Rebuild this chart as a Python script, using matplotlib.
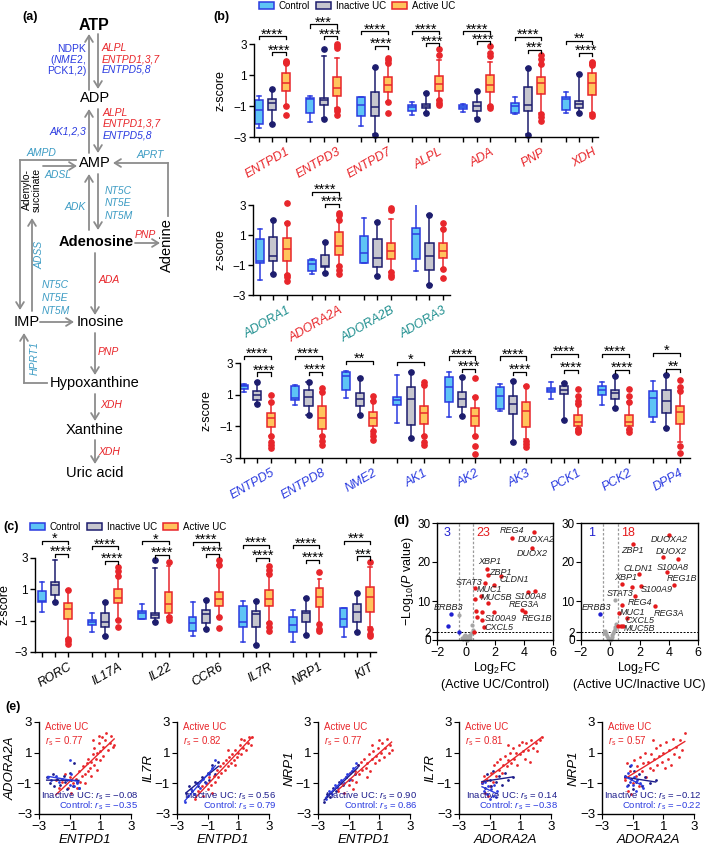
import numpy as np
import matplotlib
matplotlib.use("Agg")
import matplotlib.pyplot as plt
from matplotlib.patches import Patch
from matplotlib.transforms import offset_copy

plt.rcParams['font.family'] = ['Liberation Sans', 'DejaVu Sans']
plt.rcParams['mathtext.fontset'] = 'custom'
plt.rcParams['mathtext.rm'] = 'Liberation Sans'
plt.rcParams['mathtext.it'] = 'Liberation Sans:italic'
plt.rcParams['mathtext.bf'] = 'Liberation Sans:bold'
plt.rcParams['axes.linewidth'] = 1.0

RED = '#e8262b'
BLUE = '#2b3be0'
NAVY = '#1d1d6e'
TEAL_A = '#3d9cc4'
TEAL_G = '#1f8f8f'
ARROW = '#8c8c8c'
GROUPS = ['Control', 'Inactive UC', 'Active UC']
FACE = ['#5ec4f5', '#c6c6ce', '#ffc45c']
EDGE = [BLUE, NAVY, RED]

# ---------------- data: panel (b) ----------------
# each box: (whisker low, q1, median, q3, whisker high)
b1_genes = ['ENTPD1', 'ENTPD3', 'ENTPD7', 'ALPL', 'ADA', 'PNP', 'XDH']
b1_control = [(-2.45, -2.13, -1.26, -0.61, -0.35), (-2.02, -1.44, -0.57, -0.46, -0.35),
              (-2.30, -1.65, -0.94, -0.44, -0.40), (-1.55, -1.31, -1.09, -0.94, -0.72),
              (-1.37, -1.20, -1.05, -0.94, -0.90), (-1.52, -1.44, -1.00, -0.79, -0.40),
              (-1.48, -1.26, -0.57, -0.44, -0.07)]
b1_inactive = [(-2.13, -1.26, -0.79, -0.53, 0.03), (-1.80, -0.94, -0.61, -0.50, 2.20),
               (-2.78, -1.65, -1.05, -0.07, 1.48), (-1.48, -1.16, -1.00, -0.87, -0.14),
               (-1.80, -1.31, -1.00, -0.72, -0.03), (-2.78, -1.31, -0.94, 0.21, 1.48),
               (-1.48, -1.16, -0.87, -0.66, 1.07)]
b1_inactive_fl = [[-2.17, 0.10], [-1.85, 2.68], [-2.90, 1.50], [-1.48, -0.14],
                  [-1.85, -0.03], [-2.90, 1.48], [-1.48, 1.07]]
b1_active = [(-1.00, -0.01, 0.51, 1.12, 1.75), (-1.16, -0.35, 0.14, 0.86, 2.09),
             (-0.72, -0.07, 0.36, 0.90, 1.77), (-0.61, -0.01, 0.40, 0.94, 1.98),
             (-1.00, -0.07, 0.36, 1.00, 1.87), (-1.48, -0.23, 0.47, 0.90, 1.66),
             (-1.48, -0.29, 0.47, 1.16, 1.66)]
b1_active_fl = [[1.75, 1.82, 1.90, -1.00, -1.59], [2.75, 2.90, 3.00, -1.20, -1.35, -1.60],
                [1.80, 1.95, 2.10, -0.72, -1.42], [2.30, 2.68, -0.60, -0.80, -0.95],
                [2.20, 2.42, 2.85, -1.00, -1.15], [1.70, 2.05, 2.30, -1.50, -1.70, -1.95],
                [1.66, 1.78, 1.87, -1.50, -1.65]]
b1_outer = ['****', '***', '****', '****', '****', '****', '**']
b1_outer_y = [3.50, 4.26, 3.82, 3.82, 3.82, 3.45, 3.22]
b1_inner = ['****', '****', '****', '****', '****', '***', '****']
b1_inner_y = [2.46, 3.50, 2.89, 3.06, 3.17, 2.63, 2.42]

b2_genes = ['ADORA1', 'ADORA2A', 'ADORA2B', 'ADORA3']
b2_colors = [TEAL_G, RED, TEAL_G, TEAL_G]
b2_control = [(-2.00, -0.89, -0.73, 0.71, 1.38), (-1.60, -1.40, -0.93, -0.67, -0.60),
              (-0.89, -0.84, -0.18, 0.93, 2.16), (-1.38, -0.62, 1.07, 1.44, 3.11)]
b2_inactive = [(-1.60, -0.71, -0.38, 0.84, 2.00), (-1.56, -1.11, -1.04, -0.33, 0.56),
               (-1.73, -1.11, -0.56, 0.71, 1.89), (-2.33, -1.33, -0.38, 0.49, 2.33)]
b2_inactive_fl = [[-1.60, 2.00], [-1.56, 0.56], [-1.73, 1.89], [-2.33, 2.33]]
b2_active = [(-1.67, -0.73, 0.04, 0.78, 1.78), (-1.07, -0.33, 0.27, 1.18, 2.00),
             (-1.44, -0.62, -0.07, 0.49, 2.09), (-1.29, -0.56, -0.04, 0.49, 1.38)]
b2_active_fl = [[1.78, 3.10, -1.67, -1.80, -2.10], [2.00, 2.30, 2.45, -1.07, -1.33, -1.60],
                [2.67, 2.78, -1.44, -1.67, -1.82], [1.38, 1.78, -1.29, -1.89]]
b2_outer = ['', '****', '', '']
b2_outer_y = [0, 3.89, 0, 0]
b2_inner = ['', '****', '', '']
b2_inner_y = [0, 3.07, 0, 0]

b3_genes = ['ENTPD5', 'ENTPD8', 'NME2', 'AK1', 'AK2', 'AK3', 'PCK1', 'PCK2', 'DPP4']
b3_control = [(1.15, 1.36, 1.53, 1.63, 1.67), (0.35, 0.68, 0.79, 1.57, 1.63),
              (0.77, 1.29, 2.20, 2.41, 2.47), (-0.79, 0.35, 0.68, 0.83, 2.26),
              (-0.43, 0.52, 1.46, 2.09, 2.45), (-0.01, 0.09, 0.94, 1.46, 1.67),
              (0.73, 1.19, 1.29, 1.40, 1.78), (0.35, 0.98, 1.32, 1.57, 1.78),
              (-0.71, -0.39, 0.77, 1.21, 1.88)]
b3_inactive = [(0.41, 0.68, 1.00, 1.25, 1.82), (-0.28, 0.31, 0.83, 1.32, 1.82),
               (-0.28, 0.26, 0.73, 1.08, 2.05), (-1.76, -0.89, 0.73, 1.46, 2.41),
               (-0.37, 0.20, 0.73, 1.15, 2.14), (-1.97, -0.22, 0.39, 0.94, 1.84),
               (-0.60, 1.04, 1.32, 1.53, 1.74), (0.14, 0.73, 1.08, 1.32, 2.20),
               (-1.13, -0.18, 0.62, 1.32, 2.26)]
b3_inactive_fl = [[0.41, 1.82], [-0.28, 1.82], [-0.28, 2.05], [-1.76, 2.41], [-0.37, 2.14],
                  [-1.97, 1.84], [-0.60, 1.74], [0.14, 2.20], [-1.13, 2.26]]
b3_active = [(-1.59, -1.06, -0.49, -0.16, 0.52), (-1.63, -1.17, -0.47, 0.31, 1.15),
             (-1.48, -0.96, -0.49, -0.12, 0.62), (-1.59, -0.85, -0.16, 0.31, 1.60),
             (-1.59, -1.00, -0.37, 0.14, 0.83), (-1.80, -1.06, -0.01, 0.56, 1.53),
             (-1.17, -1.00, -0.71, -0.28, 0.40), (-1.23, -1.00, -0.75, -0.28, 0.56),
             (-2.00, -0.85, -0.07, 0.31, 1.25)]
b3_active_fl = [[0.56, 1.00, -1.60, -2.00, -2.20, -2.40], [1.15, 1.40, -1.60, -1.90, -2.18],
                [0.62, 0.94, -1.27, -1.59, -1.84], [1.60, 1.82, -1.60, -2.00, -2.20],
                [0.83, 2.03, -1.63, -2.22, -2.75], [1.53, -1.90, -2.10, -2.33],
                [0.40, 0.60, 0.94, 1.36, -1.17, -1.27, -1.38], [0.56, 0.94, 1.36, -1.17, -1.38],
                [1.25, 1.50, 1.94, -2.22, -2.68]]
b3_outer = ['****', '****', '**', '*', '****', '****', '****', '****', '*']
b3_outer_y = [3.46, 3.46, 3.15, 3.08, 3.42, 3.42, 3.57, 3.57, 3.63]
b3_inner = ['****', '****', '', '', '****', '****', '****', '****', '**']
b3_inner_y = [2.41, 2.45, 0, 0, 2.62, 2.45, 2.58, 2.58, 2.62]

# ---------------- data: panel (c) ----------------
c_genes = ['RORC', 'IL17A', 'IL22', 'CCR6', 'IL7R', 'NRP1', 'KIT']
c_control = [(-0.47, 0.17, 0.26, 0.90, 1.46), (-1.71, -1.28, -1.11, -0.96, -0.53),
             (-0.90, -0.90, -0.53, -0.38, 0.04), (-1.97, -1.67, -1.13, -0.75, 0.22),
             (-2.35, -1.39, -1.07, -0.06, 0.26), (-2.35, -1.71, -1.28, -0.75, -0.32),
             (-2.03, -1.39, -0.90, -0.21, -0.17)]
c_inactive = [(0.17, 0.64, 1.29, 1.46, 2.90), (-1.99, -1.39, -1.07, -0.53, 0.22),
              (-1.07, -0.81, -0.64, -0.53, 2.36), (-1.56, -1.18, -0.60, -0.32, 0.32),
              (-2.57, -1.39, -0.60, -0.38, 0.26), (-1.92, -1.11, -0.53, -0.38, 0.47),
              (-1.75, -1.07, -0.47, 0.04, 0.75)]
c_inactive_fl = [[0.17], [-1.99, 0.22], [-1.07, 2.85], [-1.56, 0.32], [-2.57, 0.26],
                 [-1.92, 0.47], [-1.75, 0.75]]
c_active = [(-2.14, -0.92, -0.25, 0.11, 0.95), (-0.96, 0.11, 0.47, 1.03, 1.82),
            (-0.75, -0.53, 0.04, 0.82, 2.46), (-0.75, -0.04, 0.39, 0.82, 2.53),
            (-1.18, -0.04, 0.39, 0.97, 1.97), (-1.22, -0.10, 0.54, 1.07, 1.65),
            (-1.39, -0.47, 0.54, 1.12, 2.45)]
c_active_fl = [[0.97, -2.14, -2.30, -2.46], [1.82, 2.19, 2.40, -0.96, -1.39],
               [2.74, -0.75, -0.96], [2.53, 2.89, -0.75, -1.45],
               [1.97, 2.25, 2.46, -1.18, -1.39, -1.67], [2.10, -1.24, -1.50, -1.67],
               [2.74, -1.50, -1.82, -1.97]]
c_outer = ['*', '****', '*', '****', '****', '****', '***']
c_outer_y = [4.11, 3.75, 4.07, 4.03, 3.86, 3.81, 4.11]
c_inner = ['****', '****', '****', '****', '****', '****', '***']
c_inner_y = [3.26, 2.83, 3.21, 3.26, 3.00, 2.89, 3.10]

# ---------------- data: panel (d) ----------------
d1_red_x = [3.16, 4.66, 4.54, 1.42, 1.54, 2.39, 1.30, 1.95, 0.61, 1.03, 0.61, 1.54,
            4.31, 4.77, 0.68, 1.08, 1.95, 3.85, 4.08, 0.73, 1.08, 1.26, 0.54]
d1_red_y = [26.2, 27.7, 23.6, 18.3, 16.6, 16.3, 14.6, 14.0, 13.3, 11.4, 10.6, 9.4,
            12.4, 12.6, 7.5, 7.3, 7.1, 7.6, 7.3, 6.0, 5.2, 3.4, 2.0]
d1_blue_x = [-1.05, -1.25, -0.50]
d1_blue_y = [6.6, 3.7, 2.0]
d1_gray_x = [-0.45, 0.42, 0.45, -0.30, -0.20, -0.10, 0.00, 0.10, 0.20, 0.25, 0.30,
             -0.05, 0.35, 0.15, -0.15, 0.05]
d1_gray_y = [6.3, 3.9, 2.5, 0.5, 0.2, 0.8, 0.3, 0.1, 0.6, 1.2, 0.4, 1.4, 1.8, 0.9, 1.1, 0.0]
d1_labels = ['REG4', 'DUOXA2', 'DUOX2', 'XBP1', 'ZBP1', 'CLDN1', 'STAT3', 'MUC1', 'MUC5B',
             'S100A8', 'REG3A', 'ERBB3', 'S100A9', 'REG1B', 'CXCL5']
d1_label_x = [3.20, 4.82, 4.54, 1.61, 2.35, 3.36, 0.22, 1.61, 2.09, 4.47, 3.97, -1.24,
              2.39, 4.87, 2.28]
d1_label_y = [28.1, 25.75, 22.1, 20.0, 17.4, 15.45, 14.85, 12.9, 10.9, 11.2, 9.0, 8.3,
              5.6, 5.6, 3.3]
d1_counts = ['3', '23']

d2_red_x = [4.04, 1.55, 3.62, 4.66, 3.85, 1.96, 4.38, 0.81, 1.46, 2.12, 1.69, 0.81,
            3.05, 0.58, 1.16, 0.55, 0.72, 0.90]
d2_red_y = [27.0, 24.5, 21.2, 20.8, 17.4, 17.0, 14.2, 14.4, 13.7, 13.9, 11.4, 9.0,
            8.7, 6.9, 5.6, 3.7, 3.5, 3.6]
d2_blue_x = [-0.69]
d2_blue_y = [6.6]
d2_gray_x = [0.35, -0.40, -0.35, -0.30, -0.25, -0.15, -0.05, 0.00, 0.05, 0.10, 0.15,
             0.20, 0.25, 0.30, 0.35, 0.40]
d2_gray_y = [10.3, 1.8, 2.2, 1.6, 1.0, 0.6, 0.2, 0.0, 0.3, 0.8, 1.3, 1.8, 2.4, 2.9, 3.4, 4.0]
d2_labels = ['DUOXA2', 'ZBP1', 'DUOX2', 'S100A8', 'CLDN1', 'REG1B', 'XBP1', 'S100A9',
             'STAT3', 'REG4', 'REG3A', 'MUC1', 'CXCL5', 'MUC5B', 'ERBB3']
d2_label_x = [4.04, 1.50, 4.15, 4.27, 1.89, 4.89, 1.04, 3.16, 0.70, 2.01, 4.04, 1.55,
              2.01, 2.01, -0.92]
d2_label_y = [25.75, 23.0, 22.75, 18.7, 18.45, 15.7, 16.1, 12.9, 11.85, 9.7, 6.9, 7.0,
              4.9, 3.0, 8.3]
d2_counts = ['1', '18']

# ---------------- data: panel (e) ----------------
e_xlabels = ['ENTPD1', 'ENTPD1', 'ENTPD1', 'ADORA2A', 'ADORA2A']
e_ylabels = ['ADORA2A', 'IL7R', 'NRP1', 'IL7R', 'NRP1']
e_rs_active = ['0.77', '0.82', '0.77', '0.81', '0.57']
e_rs_inactive = ['\u22120.08', '0.56', '0.90', '0.14', '\u22120.12']
e_rs_control = ['\u22120.35', '0.79', '0.86', '\u22120.38', '\u22120.22']

e1_active = [(-1.9, -0.8), (-1.7, -1.3), (-1.5, -0.9), (-1.3, -0.4), (-1.1, -1.3), (-1.0, -0.6),
             (-0.9, -1.6), (-0.8, -1.0), (-0.6, -0.7), (-0.5, -1.3), (-0.4, -0.2), (-0.3, -0.9),
             (-0.2, -0.5), (-0.1, 0.1), (0.0, -0.4), (0.0, -1.0), (0.1, 0.3), (0.2, -0.2),
             (0.2, 0.6), (0.3, 0.0), (0.4, 0.4), (0.4, -0.5), (0.5, 0.9), (0.6, 0.2), (0.6, 1.3),
             (0.7, 0.6), (0.8, 1.0), (0.8, -0.1), (0.9, 1.6), (1.0, 0.5), (1.0, 1.1), (1.1, 2.0),
             (1.2, 1.4), (1.2, 0.8), (1.3, 1.8), (1.4, 2.3), (1.5, 1.2), (1.6, 1.6), (1.7, 2.1),
             (1.8, 1.4), (1.9, 1.5), (0.5, 1.8), (0.9, 2.1)]
e1_inactive = [(-2.5, -0.6), (-2.3, -1.0), (-2.1, -0.4), (-2.0, -1.2), (-1.8, -0.7), (-1.6, -1.1),
               (-1.4, -0.5), (-1.3, -0.9), (-1.2, -1.4), (-1.0, -0.3), (-0.9, -0.8), (-0.8, -1.2),
               (-0.7, 0.3), (-0.5, -0.9), (-0.4, -1.3)]
e1_control = [(-2.4, -0.6), (-2.2, -0.8), (-1.9, -0.5), (-1.7, -0.9), (-1.5, -0.7), (-1.2, -0.8),
              (-1.0, -1.1), (-1.0, 0.5), (-0.9, -0.4), (-0.7, -1.2), (-0.5, -1.0), (-0.4, -1.3)]

e2_active = [(-1.8, -2.0), (-1.6, -1.5), (-1.4, -1.2), (-1.3, -1.8), (-1.1, -1.0), (-1.0, -1.4),
             (-0.9, -0.6), (-0.8, -1.1), (-0.6, -0.5), (-0.5, -0.9), (-0.4, -0.1), (-0.3, -0.6),
             (-0.2, 0.1), (-0.1, -0.3), (0.0, 0.3), (0.1, -0.1), (0.2, 0.5), (0.3, 0.1),
             (0.4, 0.7), (0.5, 0.3), (0.6, 0.9), (0.7, 0.5), (0.8, 1.2), (0.9, 0.7), (1.0, 1.0),
             (1.1, 1.5), (1.2, 0.9), (1.3, 1.3), (1.4, 1.8), (1.5, 1.2), (1.6, 1.6), (1.7, 2.0),
             (1.8, 1.5), (1.9, 2.0), (0.3, 1.2), (0.8, 0.2), (-0.7, -1.6), (1.2, 1.9)]
e2_inactive = [(-2.4, -1.6), (-2.2, -1.2), (-2.0, -1.5), (-1.8, -0.9), (-1.6, -1.2), (-1.4, -0.6),
               (-1.2, -0.9), (-1.0, -0.3), (-0.9, -0.8), (-0.7, 0.2), (-0.5, -0.4), (-0.3, 0.4)]
e2_control = [(-2.5, -2.2), (-2.3, -1.8), (-2.1, -1.4), (-1.9, -1.7), (-1.7, -1.0), (-1.5, -1.3),
              (-1.3, -0.7), (-1.1, -1.0), (-0.9, -0.4), (-0.7, 0.0), (-0.5, 0.5)]

e3_active = [(-1.7, -1.5), (-1.5, -1.0), (-1.3, -1.6), (-1.2, -0.6), (-1.0, -1.1), (-0.9, -0.3),
             (-0.8, -0.8), (-0.6, -0.2), (-0.5, -0.9), (-0.4, 0.2), (-0.3, -0.4), (-0.2, 0.4),
             (-0.1, -0.1), (0.0, 0.6), (0.1, 0.0), (0.2, 0.3), (0.3, 0.9), (0.4, -0.2),
             (0.5, 0.6), (0.6, 1.1), (0.7, 0.3), (0.8, 0.8), (0.9, 1.3), (1.0, 0.5), (1.1, 1.0),
             (1.2, 1.6), (1.3, 0.7), (1.4, 1.3), (1.5, 1.9), (1.6, 1.0), (1.7, 1.5), (1.8, 1.2),
             (0.5, 1.5), (-0.7, -1.4), (1.0, 1.8), (0.2, -0.6)]
e3_inactive = [(-2.6, -2.2), (-2.4, -1.7), (-2.2, -1.9), (-2.0, -1.3), (-1.8, -1.5), (-1.6, -0.9),
               (-1.4, -1.1), (-1.2, -0.6), (-1.0, -0.8), (-0.8, -0.2), (-0.6, -0.4), (-0.4, 0.2)]
e3_control = [(-2.5, -2.0), (-2.3, -1.5), (-2.1, -1.7), (-1.9, -1.1), (-1.7, -1.3), (-1.5, -0.8),
              (-1.3, -1.0), (-1.1, -0.4), (-0.9, -0.7), (-0.7, 0.0), (-0.5, 0.3)]

e4_active = [(-1.5, -1.0), (-1.4, -0.5), (-1.3, -1.6), (-1.2, -0.8), (-1.0, -1.2), (-0.9, -0.3),
             (-0.8, -0.9), (-0.7, 0.2), (-0.6, -0.5), (-0.5, 0.4), (-0.4, -0.1), (-0.3, 0.6),
             (-0.2, -0.3), (-0.1, 0.2), (0.0, 0.8), (0.1, 0.1), (0.2, 0.5), (0.3, 1.0),
             (0.4, 0.3), (0.5, 1.3), (0.6, 0.6), (0.7, 1.0), (0.8, 0.2), (0.9, 1.5), (1.0, 0.9),
             (1.1, 1.7), (1.2, 1.1), (1.3, 0.6), (1.4, 1.6), (1.5, 1.2), (1.6, 0.4), (1.7, 1.8),
             (1.8, 1.3), (2.0, 1.6), (2.1, 1.1), (2.3, 1.8), (2.4, 2.0), (-1.1, -1.8), (0.2, 1.5)]
e4_inactive = [(-1.5, -0.9), (-1.3, -1.3), (-1.2, -0.4), (-1.0, -0.8), (-0.9, -1.2), (-0.8, -0.2),
               (-0.6, -0.9), (-0.4, -0.5), (-0.2, -1.1), (0.0, -0.3), (0.2, -0.8), (0.5, -0.6)]
e4_control = [(-1.5, -1.0), (-1.4, -1.5), (-1.3, -0.9), (-1.2, -1.7), (-1.1, -1.2), (-1.0, -2.0),
              (-0.9, -1.4), (-0.8, -1.8), (-0.7, -1.1), (-0.6, -1.9), (-0.5, -1.5)]

e5_active = [(-1.5, -0.8), (-1.4, 0.3), (-1.3, -1.5), (-1.2, -0.2), (-1.0, -1.0), (-0.9, 0.5),
             (-0.8, -0.5), (-0.7, 0.1), (-0.6, -1.2), (-0.5, 0.7), (-0.4, -0.2), (-0.3, 0.3),
             (-0.2, 1.0), (-0.1, -0.6), (0.0, 0.4), (0.1, 0.0), (0.2, 0.9), (0.3, -0.1),
             (0.4, 0.6), (0.5, 1.3), (0.6, 0.2), (0.7, 0.8), (0.8, 1.5), (0.9, 0.4), (1.0, 1.0),
             (1.1, 0.0), (1.2, 1.7), (1.3, 0.6), (1.4, 1.2), (1.5, 0.2), (1.6, 1.9), (1.7, 0.9),
             (1.8, 1.4), (2.0, 0.7), (2.1, 1.8), (2.2, 1.2), (2.4, 2.3), (0.3, 1.8), (-1.1, -1.7)]
e5_inactive = [(-1.5, -0.5), (-1.3, -1.1), (-1.2, 0.1), (-1.1, -0.7), (-1.0, -1.4), (-0.9, -0.2),
               (-0.8, -0.9), (-0.6, -0.4), (-0.4, -1.2), (-0.2, -0.6), (0.1, -1.0), (0.5, -0.8)]
e5_control = [(-1.5, -0.6), (-1.4, -1.2), (-1.3, -0.3), (-1.2, -0.9), (-1.1, 0.2), (-1.0, -1.1),
              (-0.9, -0.6), (-0.8, -1.5), (-0.7, -0.8), (-0.5, -1.0), (-0.3, -1.3)]

# ---------------- data: panel (a) pathway ----------------
metabolites = ['ATP', 'ADP', 'AMP', 'Adenosine', 'Adenine', 'IMP', 'Inosine',
               'Hypoxanthine', 'Xanthine', 'Uric acid']

W, H = 709, 846
fig = plt.figure(figsize=(W / 100, H / 100), dpi=100)
STRIDE = 3.83


def add_ax(x0, y0, x1, y1):
    return fig.add_axes([x0 / W, 1 - y1 / H, (x1 - x0) / W, (y1 - y0) / H])


def box_panel(ax, genes, colors, control, inactive, inactive_fl, active, active_fl,
              outer, outer_y, inner, inner_y, xlim, width_px, label_off=27):
    groups = [(control, [[] for _ in genes]), (inactive, inactive_fl), (active, active_fl)]
    ticks = []
    for j, (stats, fl) in enumerate(groups):
        bx = []
        for i in range(len(genes)):
            lo, q1, med, q3, hi = stats[i]
            bx.append(dict(whislo=lo, q1=q1, med=med, q3=q3, whishi=hi, fliers=fl[i]))
        pos = [i * STRIDE + j for i in range(len(genes))]
        ticks += pos
        ax.bxp(bx, positions=pos, widths=0.6, capwidths=0.3, patch_artist=True,
               manage_ticks=False,
               boxprops=dict(facecolor=FACE[j], edgecolor=EDGE[j], linewidth=1.1),
               medianprops=dict(color=EDGE[j], linewidth=1.1),
               whiskerprops=dict(color=EDGE[j], linewidth=1.1),
               capprops=dict(color=EDGE[j], linewidth=1.1),
               flierprops=dict(marker='o', markersize=3.8, markerfacecolor=EDGE[j],
                               markeredgecolor=EDGE[j], clip_on=False))
    for i in range(len(genes)):
        for lbl, y, j0 in ((outer[i], outer_y[i], 0), (inner[i], inner_y[i], 1)):
            if not lbl:
                continue
            xa, xb = i * STRIDE + j0, i * STRIDE + 2
            ax.plot([xa, xa, xb, xb], [y - 0.2, y, y, y - 0.2], color='k', lw=0.9,
                    clip_on=False)
            ax.annotate(lbl, ((xa + xb) / 2, y), xytext=(0, -1.6), textcoords='offset points',
                        ha='center', va='baseline', fontsize=10.5, annotation_clip=False)
    tr = offset_copy(ax.get_xaxis_transform(), fig=fig, x=0, y=-9, units='dots')
    for i, g in enumerate(genes):
        ax.text(i * STRIDE + 2, 0, g, transform=tr, rotation=30, ha='right', va='top',
                rotation_mode='anchor', fontsize=9, style='italic', color=colors[i])
    ax.set_xlim(*xlim)
    ax.set_ylim(-3, 3)
    ax.set_yticks([-3, -1, 1, 3])
    ax.set_xticks(ticks)
    ax.set_xticklabels([])
    ax.tick_params(axis='both', length=3.5, width=1.0, labelsize=8.5, pad=1.5)
    ax.spines[['top', 'right']].set_visible(False)
    ax.set_ylabel('z-score', fontsize=9)
    ax.yaxis.set_label_coords(-label_off / width_px, 0.5)


# ---- panel (b)
ax1 = add_ax(254, 44, 598, 137)
box_panel(ax1, b1_genes, [RED] * 7, b1_control, b1_inactive, b1_inactive_fl, b1_active,
          b1_active_fl, b1_outer, b1_outer_y, b1_inner, b1_inner_y, (-0.38, 25.4), 344)
ax2 = add_ax(253, 205, 450, 295)
box_panel(ax2, b2_genes, b2_colors, b2_control, b2_inactive, b2_inactive_fl, b2_active,
          b2_active_fl, b2_outer, b2_outer_y, b2_inner, b2_inner_y, (-0.5, 14.0), 197)
ax3 = add_ax(240, 363, 690, 458)
box_panel(ax3, b3_genes, [BLUE] * 9, b3_control, b3_inactive, b3_inactive_fl, b3_active,
          b3_active_fl, b3_outer, b3_outer_y, b3_inner, b3_inner_y, (-0.3, 33.4), 450)

# ---- panel (c)
axc = add_ax(35, 558, 376, 652)
box_panel(axc, c_genes, ['k'] * 7, c_control, c_inactive, c_inactive_fl, c_active,
          c_active_fl, c_outer, c_outer_y, c_inner, c_inner_y, (-0.5, 25.45), 341,
          label_off=24)

handles = [Patch(facecolor=FACE[j], edgecolor=EDGE[j], linewidth=1.1) for j in range(3)]
for xy in ((259, 6), (30, 527)):
    fig.legend(handles, GROUPS, loc='center left', bbox_to_anchor=(xy[0] / W, 1 - xy[1] / H),
               ncol=3, frameon=False, fontsize=7, handlelength=1.55, handleheight=0.8,
               handletextpad=0.5, columnspacing=0.6, borderaxespad=0, borderpad=0)

# ---- panel (d)
vol = [(d1_red_x, d1_red_y, d1_blue_x, d1_blue_y, d1_gray_x, d1_gray_y, d1_labels,
        d1_label_x, d1_label_y, d1_counts, '(Active UC/Control)'),
       (d2_red_x, d2_red_y, d2_blue_x, d2_blue_y, d2_gray_x, d2_gray_y, d2_labels,
        d2_label_x, d2_label_y, d2_counts, '(Active UC/Inactive UC)')]
for k, (x0, x1) in enumerate([(437, 553), (581, 698)]):
    rx, ry, bx_, by, gx, gy, labs, lx, ly, counts, sub = vol[k]
    ax = add_ax(x0, 523, x1, 640)
    ax.axvline(-0.5, color='#9a9a9a', ls=(0, (2, 1.5)), lw=0.9, zorder=1)
    ax.axvline(0.5, color='#9a9a9a', ls=(0, (2, 1.5)), lw=0.9, zorder=1)
    ax.axhline(2, color='k', ls=(0, (2, 1.5)), lw=0.7, zorder=1)
    ax.scatter(gx, gy, s=9, color='#a5a5a5', lw=0, zorder=2, clip_on=False)
    ax.scatter(rx, ry, s=10, color='#e41a1c', lw=0, zorder=3, clip_on=False)
    ax.scatter(bx_, by, s=10, color='#2020d0', lw=0, zorder=3, clip_on=False)
    for t, x, y in zip(labs, lx, ly):
        ax.text(x, y, t, fontsize=6.5, style='italic', ha='center', va='center',
                color='#222222')
    ax.text(-1.31, 27.5, counts[0], color='#2020d0', fontsize=9, ha='center', va='center')
    ax.text(1.2, 27.5, counts[1], color='#e41a1c', fontsize=9, ha='center', va='center')
    ax.set_xlim(-2, 6)
    ax.set_ylim(0, 30)
    ax.set_xticks([-2, 0, 2, 4, 6])
    ax.set_yticks([0, 2, 10, 20, 30])
    ax.tick_params(axis='both', length=3.5, labelsize=9, pad=1.5)
    ax.tick_params(axis='y', labelsize=8.5, pad=1)
    ax.set_xlabel('Log$_2$FC\n' + sub, fontsize=9, labelpad=1, linespacing=1.25)
    if k == 0:
        ax.set_ylabel('\u2212Log$_{10}$($P$ value)', fontsize=9, labelpad=1)

# ---- panel (e)
e_sets = [(e1_active, e1_inactive, e1_control), (e2_active, e2_inactive, e2_control),
          (e3_active, e3_inactive, e3_control), (e4_active, e4_inactive, e4_control),
          (e5_active, e5_inactive, e5_control)]
e_colors = [RED, '#1c1c8b', BLUE]
for k, x0 in enumerate([39, 177, 318, 459, 602]):
    ax = add_ax(x0, 722, x0 + 92, 814)
    for pts, col in zip(e_sets[k], e_colors):
        xs = np.array([p[0] for p in pts])
        ys = np.array([p[1] for p in pts])
        ax.scatter(xs, ys, s=4, color=col, lw=0, clip_on=False)
        coef = np.polyfit(xs, ys, 1)
        xr = np.array([xs.min(), xs.max()])
        ax.plot(xr, np.polyval(coef, xr), color=col, lw=1.0)
    ax.set_xlim(-3, 3)
    ax.set_ylim(-3, 3)
    ax.set_xticks([-3, -1, 1, 3])
    ax.set_yticks([-3, -1, 1, 3])
    ax.spines[['top', 'right']].set_visible(False)
    ax.tick_params(axis='both', length=3.5, labelsize=9.5, pad=1.5)
    ax.set_xlabel(e_xlabels[k], fontsize=9.5, style='italic', labelpad=1)
    ax.set_ylabel(e_ylabels[k], fontsize=9.5, style='italic', labelpad=0)
    ax.text(0.07, 1.0, 'Active UC', transform=ax.transAxes, color=RED, fontsize=7,
            va='top')
    ax.text(0.07, 0.87, r'$r_{\mathrm{s}}$ = ' + e_rs_active[k], transform=ax.transAxes,
            color=RED, fontsize=7, va='top')
    ax.text(1.08, 0.13, r'Inactive UC: $r_{\mathrm{s}}$ = ' + e_rs_inactive[k],
            transform=ax.transAxes, color='#1c1c8b', fontsize=6.8, ha='right', va='bottom')
    ax.text(1.08, 0.02, r'Control: $r_{\mathrm{s}}$ = ' + e_rs_control[k],
            transform=ax.transAxes, color=BLUE, fontsize=6.8, ha='right', va='bottom')

# ---- panel (a) pathway diagram (pixel coordinates)
axa = fig.add_axes([0, 1 - 500 / H, 210 / W, 500 / H])
axa.set_xlim(0, 210)
axa.set_ylim(500, 0)
axa.axis('off')

node_xy = [(94, 26), (95, 98), (95, 163), (96, 242), (167, 245), (27, 322), (100, 322),
           (95, 383), (95, 430), (95, 473)]
for name, (x, y) in zip(metabolites, node_xy):
    bold = name in ('ATP', 'Adenosine')
    axa.text(x, y, name, ha='center', va='center', fontsize=11.5 if name == 'ATP' else 10.5,
             fontweight='bold' if bold else 'normal', rotation=90 if name == 'Adenine' else 0)
axa.text(32, 190, 'Adenylo-\nsuccinate', rotation=90, ha='center', va='center', fontsize=7.5,
         linespacing=1.0)


def arrow(pts):
    pts = np.array(pts, float)
    if len(pts) > 2:
        axa.plot(pts[:-1, 0], pts[:-1, 1], color=ARROW, lw=1.3)
    axa.annotate('', xy=pts[-1], xytext=pts[-2],
                 arrowprops=dict(arrowstyle='->,head_length=0.45,head_width=0.28',
                                 color=ARROW, lw=1.3, shrinkA=0, shrinkB=0))


for pts in [[(89, 90), (89, 34)], [(98, 34), (98, 89)], [(89, 153), (89, 109)],
            [(98, 109), (98, 153)], [(89, 230), (89, 174)], [(98, 174), (98, 230)],
            [(95, 253), (95, 315)], [(95, 333), (95, 375)], [(95, 394), (95, 421)],
            [(95, 440), (95, 464)], [(135, 243), (160, 243)], [(40, 322), (74, 322)],
            [(76, 160), (20, 160), (20, 310)], [(43, 166), (77, 166)], [(32, 311), (32, 218)],
            [(47, 383), (24, 383), (24, 333)], [(168, 216), (168, 163), (113, 163)]]:
    arrow(pts)

enz = [('NDPK', 86, 49, BLUE, 'right', 0, 'normal'),
       ('($\\mathit{NME2}$,', 86, 60, BLUE, 'right', 0, 'normal'),
       ('PCK1,2)', 86, 71, BLUE, 'right', 0, 'normal'),
       ('ALPL', 102, 48, RED, 'left', 0, 'italic'),
       ('ENTPD1,3,7', 102, 59, RED, 'left', 0, 'italic'),
       ('ENTPD5,8', 102, 70, BLUE, 'left', 0, 'italic'),
       ('AK1,2,3', 86, 131, BLUE, 'right', 0, 'italic'),
       ('ALPL', 103, 113, RED, 'left', 0, 'italic'),
       ('ENTPD1,3,7', 103, 124, RED, 'left', 0, 'italic'),
       ('ENTPD5,8', 103, 135, BLUE, 'left', 0, 'italic'),
       ('AMPD', 27, 153, TEAL_A, 'left', 0, 'italic'),
       ('APRT', 137, 155, TEAL_A, 'left', 0, 'italic'),
       ('ADSL', 45, 175, TEAL_A, 'left', 0, 'italic'),
       ('ADK', 86, 207, TEAL_A, 'right', 0, 'italic'),
       ('NT5C', 105, 191, TEAL_A, 'left', 0, 'italic'),
       ('NT5E', 105, 203, TEAL_A, 'left', 0, 'italic'),
       ('NT5M', 105, 216, TEAL_A, 'left', 0, 'italic'),
       ('PNP', 135, 235, RED, 'left', 0, 'italic'),
       ('ADSS', 40, 255, TEAL_A, 'center', 90, 'italic'),
       ('ADA', 99, 280, RED, 'left', 0, 'italic'),
       ('NT5C', 42, 285, TEAL_A, 'left', 0, 'italic'),
       ('NT5E', 42, 298, TEAL_A, 'left', 0, 'italic'),
       ('NT5M', 42, 311, TEAL_A, 'left', 0, 'italic'),
       ('PNP', 98, 352, RED, 'left', 0, 'italic'),
       ('HPRT1', 35, 358, TEAL_A, 'center', 90, 'italic'),
       ('XDH', 100, 405, RED, 'left', 0, 'italic'),
       ('XDH', 98, 452, RED, 'left', 0, 'italic')]
for t, x, y, c, ha, rot, st in enz:
    axa.text(x, y, t, color=c, ha=ha, va='center', rotation=rot, style=st, fontsize=7.5)

# ---- panel letters
for lbl, x, y in [('(a)', 22, 17), ('(b)', 213, 17), ('(c)', 3, 527), ('(d)', 393, 521),
                  ('(e)', 5, 707)]:
    fig.text(x / W, 1 - y / H, lbl, fontsize=9, fontweight='bold', va='center')

fig.savefig('out.png', dpi=100)
